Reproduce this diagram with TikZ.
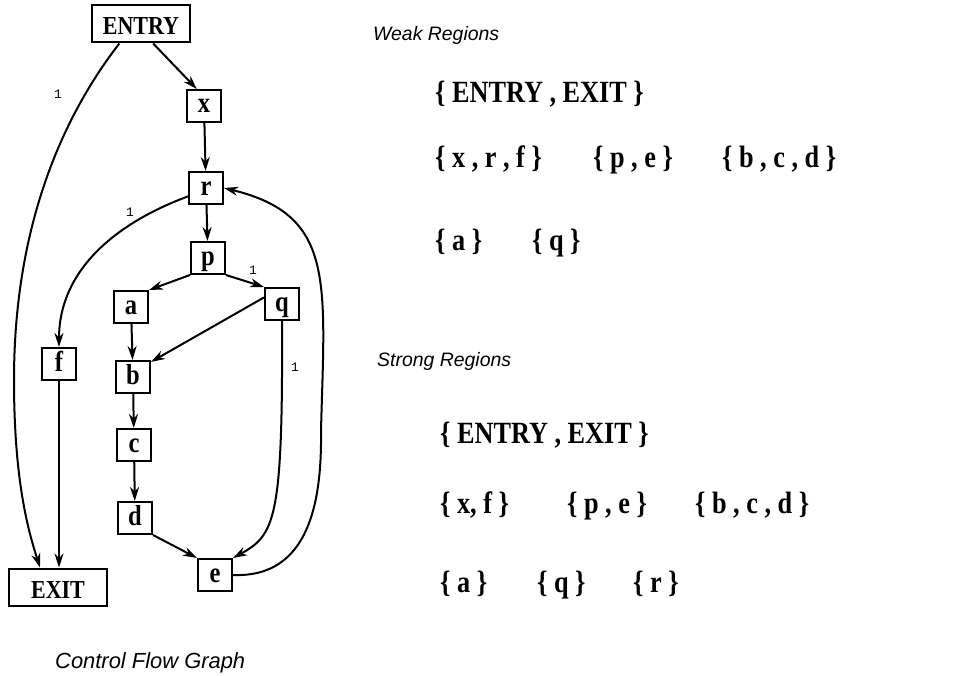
\documentclass[tikz,border=0pt]{standalone}
\usepackage{fontspec}
\usepackage{tikz}
\usetikzlibrary{positioning,arrows.meta}
\setmainfont{Liberation Serif}
\newfontfamily\boxfont{Liberation Serif}[FakeStretch=0.85]
\newfontfamily\capfont{Liberation Sans}
\newfontfamily\numfont{Liberation Mono}

\tikzset{
  blk/.style={draw, line width=2bp, inner sep=0pt, minimum width=34bp, minimum height=32bp,
    text height=16bp, text depth=2bp, font=\boxfont\bfseries\fontsize{29}{29}\selectfont},
  term/.style={blk, minimum width=98bp, minimum height=37bp, text height=22bp, text depth=0pt,
    font=\boxfont\bfseries\fontsize{26}{26}\selectfont},
  flow/.style={line width=2bp, -{Stealth[length=14bp,width=9bp]}},
  lbl/.style={inner sep=0pt, font=\numfont\fontsize{13}{13}\selectfont},
  hdr/.style={anchor=base west, inner sep=0pt, font=\capfont\itshape\fontsize{19.5}{20}\selectfont},
  reg/.style={anchor=base west, inner sep=0pt, font=\boxfont\bfseries\fontsize{31}{31}\selectfont}
}

\begin{document}
\begin{tikzpicture}[x=1bp, y=-1bp]
    \useasboundingbox (0,0) rectangle (959,676);

    % Basic blocks
    \node[term] (ENTRY) at (141,24) {ENTRY};
    \node[blk] (x) at (204,106) {x};
    \node[blk] (r) at (206,188) {r};
    \node[blk] (p) at (208,258) {p};
    \node[blk] (a) at (131,307) {a};
    \node[blk] (q) at (282,304) {q};
    \node[blk] (f) at (59,364) {f};
    \node[blk] (b) at (133,377) {b};
    \node[blk] (c) at (134,445) {c};
    \node[blk] (d) at (135,518) {d};
    \node[blk] (e) at (215,575) {e};
    \node[term] (EXIT) at (58,587) {EXIT};

    % Edges
    \draw[flow] (ENTRY.302) -- (x.113);
    \draw[flow] (ENTRY.222) .. controls (60,120) and (14,230) .. (14,380)
        .. controls (14,480) and (28,530) .. ([xshift=-18bp]EXIT.north);
    \draw[flow] (x) -- (r);
    \draw[flow] (r) -- (p);
    \draw[flow] (r.205) .. controls (116,223) and (59,270) .. (f.north);
    \draw[flow] (p.south west) -- (a.north east);
    \draw[flow] (p.south east) -- (q.north west);
    \draw[flow] (a) -- (b);
    \draw[flow] (q.160) -- (b.40);
    \draw[flow] (b) -- (c);
    \draw[flow] (c) -- (d);
    \draw[flow] (d.south east) -- (e.north west);
    \draw[flow] (q.south) .. controls (283,520) and (275,535) .. (e.north east);
    \draw[flow] (f.south) -- (f.south |- EXIT.north);

    % Back edge e -> r
    \coordinate (back) at (321,430);
    \draw[flow] (e.east) .. controls (310,578) and (322,500) .. (back)
        .. controls (325,280) and (335,215) .. (r.east);

    % Edge weights
    \node[lbl] (w1) at (58,94) {1};
    \node[lbl] (w2) at (130,212) {1};
    \node[lbl] (w3) at (253,270) {1};
    \node[lbl] (w4) at (295,367) {1};

    \node[hdr, font=\capfont\itshape\fontsize{22}{22}\selectfont] (cfg) at (55,668) {Control Flow Graph};

    % Weak regions
    \node[hdr] (weak) at (373,41) {Weak Regions};
    \node[reg] (wk0) at (435,103) {\{ ENTRY , EXIT \}};
    \node[reg] (wk1) at (435,168) {\{ x , r , f \}};
    \node[reg] (wk2) at (593,168) {\{ p , e \}};
    \node[reg] (wk3) at (722,168) {\{ b , c , d \}};
    \node[reg] (wk4) at (435,250) {\{ a \}};
    \node[reg] (wk5) at (532,250) {\{ q \}};

    % Strong regions
    \node[hdr] (strong) at (377,366) {Strong Regions};
    \node[reg] (st0) at (440,443) {\{ ENTRY , EXIT \}};
    \node[reg] (st1) at (440,513) {\{ x, f \}};
    \node[reg] (st2) at (567,513) {\{ p , e \}};
    \node[reg] (st3) at (695,513) {\{ b , c , d \}};
    \node[reg] (st4) at (440,592) {\{ a \}};
    \node[reg] (st5) at (537,592) {\{ q \}};
    \node[reg] (st6) at (633,592) {\{ r \}};

\end{tikzpicture}
\end{document}
